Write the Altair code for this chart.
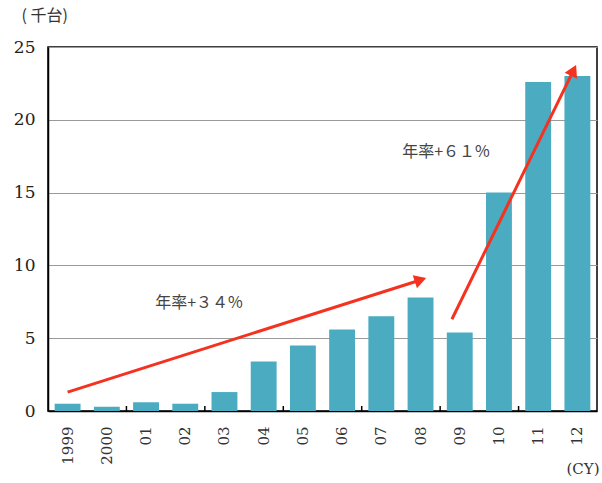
import altair as alt
import pandas as pd

# ---- data ----
years = ["1999", "2000", "01", "02", "03", "04", "05", "06", "07", "08", "09", "10", "11", "12"]
units = [0.5, 0.3, 0.6, 0.5, 1.3, 3.4, 4.5, 5.6, 6.5, 7.8, 5.4, 15.0, 22.6, 23.0]

# trend arrows (x in band-index units: band i centred at i + 0.5)
arrow_x0 = [0.5, 10.3]
arrow_y0 = [1.3, 6.3]
arrow_x1 = [9.5, 13.4]
arrow_y1 = [9.0, 23.4]
arrow_angle = [72, 26]

notes = ["年率+３４%", "年率+６１%"]
note_x = [3.85, 10.15]
note_y = [7.4, 17.8]

tick_marks = [2, 4, 6, 8, 10, 12]

W, H = 549, 364
BAR = "#4aabc1"
RED = "#f4321f"
SERIF = "DejaVu Serif"
CJK = "Noto Sans CJK JP"

bars_df = pd.DataFrame({"year": years, "units": units})
arrows_df = pd.DataFrame({"x0": arrow_x0, "y0": arrow_y0, "x1": arrow_x1, "y1": arrow_y1, "angle": arrow_angle})
notes_df = pd.DataFrame({"label": notes, "x": note_x, "y": note_y})
ticks_df = pd.DataFrame({"x": tick_marks, "y": [0] * len(tick_marks)})

yscale = alt.Scale(domain=[0, 25], nice=False, zero=True)
qx = alt.Scale(domain=[0, 14], nice=False, zero=False)

bars = alt.Chart(bars_df).mark_bar(color=BAR).encode(
    x=alt.X("year:N", sort=years,
            scale=alt.Scale(paddingInner=0.34, paddingOuter=0.17),
            axis=alt.Axis(title="(CY)", titleAngle=0, titleX=W + 2, titleY=57,
                          titleAlign="right", titleBaseline="middle",
                          titleFont=SERIF, titleFontSize=15, titleFontWeight="normal",
                          titleColor="#333",
                          labelAngle=-90, labelFont=SERIF, labelFontSize=15,
                          labelColor="#333", labelPadding=15, ticks=False,
                          domainColor="black", domainWidth=1.5)),
    y=alt.Y("units:Q", scale=yscale,
            axis=alt.Axis(values=[0, 5, 10, 15, 20, 25], title="( 千台)", titleAngle=0,
                          titleX=-27, titleY=-32, titleAlign="left", titleBaseline="middle",
                          titleFont=CJK, titleFontSize=16, titleFontWeight="normal",
                          titleColor="#333",
                          labelFont=SERIF, labelFontSize=17, labelColor="#222",
                          labelPadding=13, tickSize=0,
                          grid=True, gridColor="#9a9a9a", gridWidth=1,
                          domainColor="black", domainWidth=1.5)),
)

ticks = alt.Chart(ticks_df).mark_rule(color="black", strokeWidth=1.5).encode(
    x=alt.X("x:Q", scale=qx, axis=None),
    y=alt.Y("y:Q", scale=yscale),
    y2=alt.value(H - 5),
)

lines = alt.Chart(arrows_df).mark_rule(color=RED, strokeWidth=3).encode(
    x=alt.X("x0:Q", scale=qx, axis=None),
    y=alt.Y("y0:Q", scale=yscale),
    x2="x1:Q",
    y2="y1:Q",
)

heads = alt.Chart(arrows_df).mark_point(shape="triangle-up", filled=True, color=RED,
                                        size=190, opacity=1).encode(
    x=alt.X("x1:Q", scale=qx, axis=None),
    y=alt.Y("y1:Q", scale=yscale),
    angle=alt.Angle("angle:Q", scale=None),
)

texts = alt.Chart(notes_df).mark_text(font=CJK, fontSize=16, color="#444").encode(
    x=alt.X("x:Q", scale=qx, axis=None),
    y=alt.Y("y:Q", scale=yscale),
    text="label:N",
)

over = alt.layer(ticks, lines, heads, texts)

chart = alt.layer(bars, over).resolve_scale(x="independent").properties(
    width=W, height=H,
    padding={"left": 48, "top": 47, "right": 5, "bottom": 72},
    autosize=alt.AutoSizeParams(type="none"),
).configure_view(stroke="black", strokeWidth=1.5)

chart.save("out.html", embed_options={"renderer": "svg", "actions": False})
